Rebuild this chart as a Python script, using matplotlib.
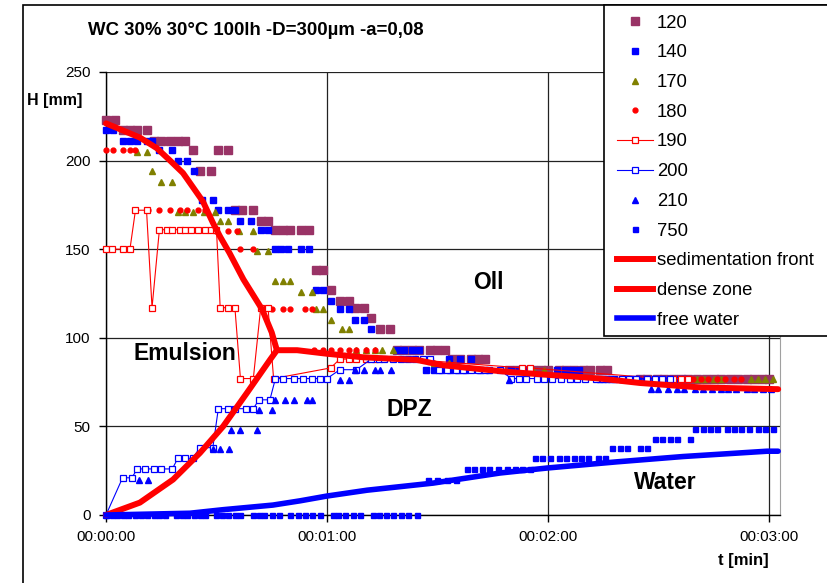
import matplotlib
matplotlib.use("Agg")
import matplotlib.pyplot as plt
from matplotlib.lines import Line2D
from matplotlib.patches import Rectangle
from matplotlib.ticker import FuncFormatter

plt.rcParams['font.family'] = ['Liberation Sans', 'DejaVu Sans']

TITLE = "WC 30% 30°C 100lh -D=300µm -a=0,08"
X_TICKS = [0, 60, 120, 180]          # seconds
Y_TICKS = [0, 50, 100, 150, 200, 250]

# (time [s], H [mm])
S120 = [(0,223),(2.5,223),(4.5,217),(6.5,217),(8.5,217),(11,217),(13,211),(15,211),(17.5,211),
        (19.5,211),(21.5,211),(23.5,206),(25.5,194),(28.5,194),(30.5,206),(33,206),(35,172),(37,172),
        (40,172),(42,166),(44,166),(46,161),(48,161),(50,161),(53,161),(55,161),(57,138),(59,138),
        (61,127),(63.5,121),(66,121),(67.5,117),(70,117),(72,111),(74.5,105),(77,105),(79,93),(81,93),
        (83,93),(85,93),(88,93),(90,93),(92,93),(94,88),(96,88),(99,88),(101,88),(103,88),(109.5,82),
        (111.5,82),(113.5,82),(116,82),(118,82),(120,82),(123,82),(125,82),(127,82),(129.5,82),
        (131.5,82),(134,82),(136,82),(145,77),(147,77),(149.5,77),(151.5,77),(154,77),(156,77),
        (158,77),(160.5,77),(163,77),(165,77),(167,77),(169.5,77),(171.5,77),(174,77),(176,77),
        (178,77),(180,77)]
S140 = [(0,217),(2,217),(4.5,211),(6.5,211),(8.5,211),(11,211),(12.5,211),(14.5,206),(18,206),
        (19.5,200),(22,200),(24,194),(26,178),(29,178),(30.5,172),(33,172),(35,172),(36.5,166),
        (39.5,166),(42,161),(44,161),(46,150),(47.5,150),(49.5,150),(53,150),(55,150),(57,127),
        (59,127),(61,121),(63.5,116),(66,116),(67.5,110),(70,110),(72,105),(79,93),(81,93),(83,93),
        (85,93),(93,88),(96,88),(99,88),(87,82),(89,82),(91,82),(93.5,82),(95.5,82),(97.5,82),
        (101.5,82),(104,82),(110,82),(112,82),(114,82),(122.5,82),(124.5,82),(126.5,82),(128.5,82),
        (134,77),(136,77),(138,77),(140,77),(142.5,77),(144.5,77),(146.5,77),(149,77),(151,77),
        (153,77),(155,77),(157,77)]
S170 = [(8.5,205),(11,205),(12.5,194),(15,188),(18,188),(19.5,171),(21.5,171),(23.5,171),
        (26.5,171),(29.5,171),(31,166),(33,166),(36,160),(40,160),(41,149),(44,149),(46,132),
        (48,132),(50,132),(53,126),(56,126),(57,116),(59,116),(61,110),(64,105),(66,105),(68,93),
        (70.5,93),(73,93),(75,93),(78,93),(89,86),(93,86),(116,82),(119,82),(160.5,77),(162.5,77),
        (165,77),(167,77),(175,77),(177,77),(179,77),(181,77)]
S180 = [(0,206),(2,206),(4.5,206),(6.5,206),(8,206),(11.5,172),(14.5,172),(17.5,172),(20,172),
        (22,172),(25,172),(27,172),(30,160),(33,160),(35.5,160),(36.5,150),(40,150),(45,116),
        (48,116),(50,116),(54,116),(56,116),(56.5,93),(59,93),(61,93),(63.5,93),(66,93),(68,93),
        (70.5,93),(73,93),(159.5,77),(161.5,77),(163.5,77),(166,77),(168,77),(170.5,77),(172.5,77)]
S190 = [(0,150),(1.5,150),(4.5,150),(6.5,150),(8,172),(11,172),(12.5,117),(14.5,161),(16.5,161),
        (18,161),(20,161),(21.5,161),(23,161),(25,161),(27,161),(28.5,161),(30,161),(31,117),
        (33,117),(35,117),(36.5,77),(40,77),(42,117),(44,117),(45.5,77),(61,83),(63.5,88),(66,88),
        (68,88),(70.5,88),(73,88),(88,87),(113,83),(115,83),(151,77),(154,77),(156,77),(158,77)]
S200 = [(0,0),(4.5,21),(7,21),(8.5,26),(10.5,26),(13,26),(15,26),(18,26),(19.5,32),(21.5,32),
        (23.5,32),(25.5,38),(29,38),(30.5,60),(33,60),(35,60),(38,60),(40,60),(41.5,65),(44.5,65),
        (46,77),(48,77),(51,77),(53.5,77),(56,77),(58,77),(60,77),(63.5,82),(68,82),(72,88),(74,88),
        (75.5,88),(78,88),(80,88),(82,88),(84,88),(86,88),(88,88),(90.5,82),(92.5,82),(95,82),
        (97,82),(99,82),(101,82),(103,82),(107,82),(110,77),(112,77),(114,77),(117,77),(119,77),
        (121,77),(123.5,77),(126,77),(128,77),(130,77),(133,77),(135,77),(137,77),(140,77),(142,77),
        (144,77),(147,77),(149,77),(151,77),(153,77)]
S210 = [(9,20),(11.5,20),(29,37),(31,37),(33.5,37),(34,48),(36.5,48),(41,48),(41.5,59),(45,59),
        (46,65),(48.5,65),(51,65),(54.5,65),(56,65),(63.5,76),(66,76),(67.5,82),(70,82),(73,82),
        (74.5,82),(77.5,82),(109.5,76),(148,71),(150,71),(152.5,71),(155,71),(157,71),(160,71),
        (162,71),(164.5,71),(167,71),(169,71),(171,71),(174,71),(176,71),(178.5,71),(180.5,71)]
S750 = [(0,0),(1.5,0),(3,0),(4.5,0),(6,0),(8,0),(9.5,0),(11,0),(13,0),(14.5,0),(16,0),(19,0),
        (20.5,0),(22,0),(24,0),(25.5,0),(27,0),(30,0),(31.5,0),(33,0),(35,0),(36.5,0),(40,0),
        (41.5,0),(43,0),(45,0),(47,0),(50,0),(52,0),(54,0),(56,0),(58,0),(61.5,0),(63,0),(65,0),
        (67,0),(69,0),(72.5,0),(74,0),(76,0),(78,0),(80,0),(82,0),(84.5,0),(87.5,20),(90,20),
        (92.5,20),(95,20),(98,26),(100,26),(102,26),(104,26),(106.5,26),(109,26),(111,26),(113,26),
        (115,26),(116.5,32),(118.5,32),(120.5,32),(123,32),(125,32),(127,32),(129,32),(131,32),
        (133.5,32),(135.5,32),(137.5,38),(139.5,38),(141.5,38),(145,38),(147,38),(149,43),(151,43),
        (153,43),(155,43),(158.5,43),(160,48.5),(162,48.5),(164,48.5),(166,48.5),(168.5,48.5),
        (170.5,48.5),(172.5,48.5),(174.5,48.5),(177,48.5),(179,48.5),(181,48.5)]
SED_FRONT = [(0,221),(4.6,217),(9.2,213),(13.8,207),(17.4,200),(20.9,193),(23.6,185),(26.3,177),
             (29,165),(31,157),(33.5,148),(37.3,133),(42.4,116),(45,103),(46.4,93)]
DENSE_ZONE = [(0,0),(9.2,7),(18.2,20),(25.5,35),(31.8,50),(38.3,69),(44.5,87.5),(46.4,93),
              (51.9,93),(60,91),(69.8,89),(84.4,87.5),(91.5,84.5),(107.8,81),(120.6,79),
              (127.9,78),(134.1,77),(145,74.5),(161.3,72),(182.5,71)]
FREE_WATER = [(0,0),(22.8,1),(31.8,3),(45.3,5.6),(52.7,8),(60,10.7),(70.9,14),(88.8,18),
              (107,23.7),(119.7,26.5),(138.7,30),(156.7,33),(179.5,36),(182.5,36)]

PURPLE, BLUE, RED, OLIVE = '#993366', '#0000FF', '#FF0000', '#808000'

W, H = 828, 583
fig = plt.figure(figsize=(W / 100, H / 100), dpi=100)
fig.patch.set_facecolor('white')

def fx(px):
    return px / W

def fy(py):
    return 1 - py / H

ax = fig.add_axes([fx(106), fy(515), (780 - 106) / W, (515 - 72) / H])

def split(pairs):
    return [p[0] for p in pairs], [p[1] for p in pairs]

marker_series = [
    ("120", S120, dict(ls='none', marker='s', ms=6, color=PURPLE, mec=PURPLE)),
    ("140", S140, dict(ls='none', marker='s', ms=4.2, color=BLUE, mec=BLUE)),
    ("170", S170, dict(ls='none', marker='^', ms=5, color=OLIVE, mec=OLIVE)),
    ("180", S180, dict(ls='none', marker='o', ms=3.5, color=RED, mec=RED)),
    ("190", S190, dict(ls='-', lw=0.8, marker='s', ms=4, color=RED, mfc='white', mec=RED, mew=0.9)),
    ("200", S200, dict(ls='-', lw=0.8, marker='s', ms=4, color=BLUE, mfc='white', mec=BLUE, mew=0.9)),
    ("210", S210, dict(ls='none', marker='^', ms=5, color=BLUE, mec=BLUE)),
    ("750", S750, dict(ls='none', marker='s', ms=3.6, color=BLUE, mec=BLUE)),
]
line_series = [
    ("sedimentation front", SED_FRONT, dict(lw=4.3, color=RED)),
    ("dense zone", DENSE_ZONE, dict(lw=4.3, color=RED)),
    ("free water", FREE_WATER, dict(lw=4.0, color=BLUE)),
]

handles, labels = [], []
z = 3
for name, data, st in marker_series:
    t, h = split(data)
    ax.plot(t, h, clip_on=False, zorder=z, **st)
    z += 0.01
    handles.append(Line2D([], [], **st))
    labels.append(name)
for name, data, st in line_series:
    t, h = split(data)
    ax.plot(t, h, clip_on=False, zorder=4, solid_joinstyle='round', solid_capstyle='round', **st)
    handles.append(Line2D([], [], **st))
    labels.append(name)

ax.set_xlim(0, 183)
ax.set_ylim(0, 250)
ax.set_xticks(X_TICKS)
ax.set_yticks(Y_TICKS)
ax.xaxis.set_major_formatter(FuncFormatter(lambda s, p: f"00:{int(s // 60):02d}:{int(s % 60):02d}"))
ax.grid(True, color='#222222', lw=0.9)
ax.set_axisbelow(True)
ax.tick_params(direction='out', length=5, width=1, labelsize=11, pad=6, colors='black')
ax.spines['top'].set_visible(False)
ax.spines['right'].set_color('#a0a0a0')
for s in ('left', 'bottom'):
    ax.spines[s].set_color('black')
    ax.spines[s].set_linewidth(1)

# annotations
ax.text(21.3, 91.1, "Emulsion", ha='center', va='center', fontsize=16.5, fontweight='bold')
ax.text(103.7, 131, "Oll", ha='center', va='center', fontsize=16.5, fontweight='bold')
ax.text(82.3, 59.5, "DPZ", ha='center', va='center', fontsize=16.5, fontweight='bold')
ax.text(151.9, 18.1, "Water", ha='center', va='center', fontsize=16.5, fontweight='bold')

fig.text(fx(88), fy(30.5), TITLE, ha='left', va='center', fontsize=13.4, fontweight='bold')
fig.text(fx(55), fy(101), "H [mm]", ha='center', va='center', fontsize=11.5, fontweight='bold')
fig.text(fx(743), fy(560), "t [min]", ha='center', va='center', fontsize=12, fontweight='bold')

# chart border and legend box
fig.add_artist(Rectangle((fx(23), fy(600)), (850 - 23) / W, (600 - 5) / H, transform=fig.transFigure,
                         fill=False, ec='black', lw=1.2, zorder=1))
fig.add_artist(Rectangle((fx(604), fy(336)), (850 - 604) / W, (336 - 5) / H, transform=fig.transFigure,
                         fc='white', ec='black', lw=1.2, zorder=3))
fig.legend(handles, labels, loc='upper left', bbox_to_anchor=(fx(617), fy(14.5)), frameon=False,
           fontsize=13.3, handlelength=1.95, handletextpad=0.22, labelspacing=0.69,
           borderpad=0, borderaxespad=0)

fig.savefig("out.png", dpi=100, facecolor='white')
